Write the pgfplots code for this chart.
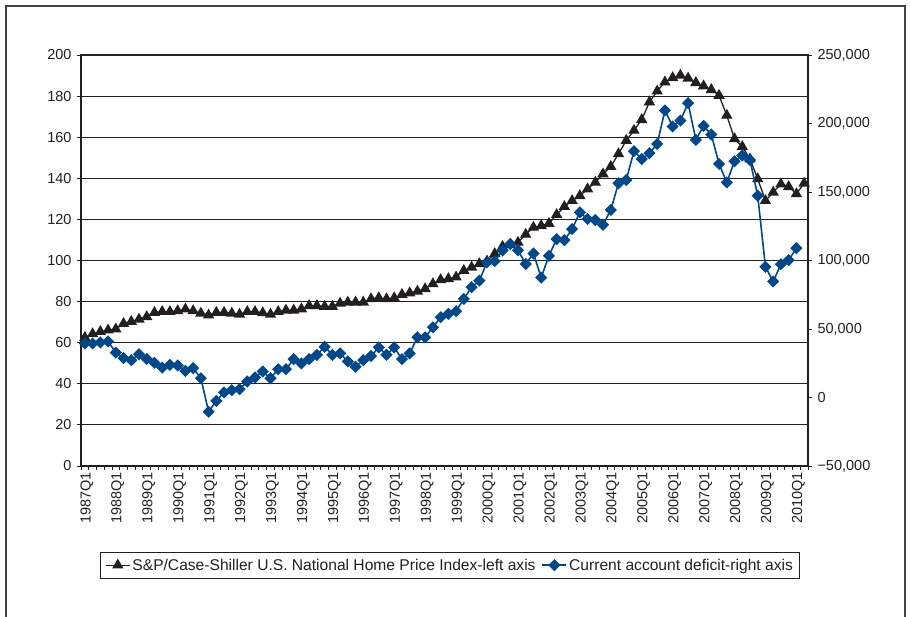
\documentclass[border=0pt]{standalone}
\usepackage{pgfplots}
\pgfplotsset{compat=1.18}
\usepackage{pgfplotstable}
\usepackage{fontspec}
\setmainfont{Liberation Sans}
\definecolor{ink}{RGB}{35,31,32}
\definecolor{cablue}{RGB}{0,72,140}

\pgfplotstableread{
x y
0 62.5
1 64.3
2 65.4
3 66.1
4 66.6
5 69.3
6 70.3
7 71.4
8 72.6
9 74.7
10 75.1
11 75.1
12 75.5
13 76.3
14 75.5
15 74.3
16 73.4
17 74.7
18 74.7
19 74.3
20 73.8
21 75.1
22 75.1
23 74.5
24 73.8
25 75.1
26 75.8
27 75.8
28 76.4
29 78.0
30 78.0
31 77.6
32 77.6
33 79.2
34 79.7
35 79.7
36 79.7
37 81.3
38 81.8
39 81.3
40 81.8
41 83.4
42 84.2
43 85.0
44 86.2
45 88.6
46 90.6
47 91.1
48 91.9
49 95.1
50 96.7
51 98.4
52 99.7
53 103.3
54 106.8
55 107.8
56 108.8
57 112.7
58 116.1
59 116.9
60 118.0
61 122.3
62 126.2
63 129.1
64 131.5
65 134.8
66 138.0
67 142.1
68 145.7
69 151.9
70 158.4
71 163.3
72 168.5
73 177.1
74 182.4
75 186.8
76 188.9
77 190.1
78 188.7
79 186.5
80 184.9
81 183.1
82 180.3
83 170.6
84 159.2
85 155.4
86 149.4
87 139.7
88 129.1
89 133.2
90 137.2
91 135.9
92 132.4
93 137.6
}\hpi

\pgfplotstableread{
x y
0 39400
1 39400
2 40150
3 40900
4 32800
5 28750
6 27250
7 31600
8 28150
9 25300
10 21850
11 23800
12 23350
13 19450
14 21400
15 14050
16 -10400
17 -2450
18 3700
19 5350
20 6100
21 11650
22 14650
23 19000
24 14050
25 20650
26 20650
27 28000
28 24850
29 28000
30 31150
31 37000
32 31150
33 32200
34 26350
35 22450
36 27250
37 30250
38 36550
39 31150
40 36550
41 28000
42 32200
43 43900
44 43900
45 51250
46 58600
47 61000
48 62950
49 71950
50 80500
51 85300
52 98800
53 99550
54 107350
55 112000
56 107500
57 97450
58 105100
59 87550
60 103450
61 115600
62 114850
63 122950
64 135100
65 130300
66 129550
67 126100
68 136900
69 156400
70 158800
71 179800
72 174100
73 178300
74 185050
75 209500
76 197800
77 202150
78 214900
79 188050
80 198250
81 191950
82 170500
83 157000
84 172450
85 176650
86 173350
87 147250
88 95350
89 84700
90 97300
91 100300
92 109000
}\cad

\begin{document}
\begin{tikzpicture}
\path[use as bounding box] (0,0) rectangle (911pt,617pt);
\draw[ink!85, line width=1.3pt] (6pt,0pt) -- (6pt,611pt) -- (905pt,611pt) -- (905pt,0pt);
\pgfplotsset{
  common/.style={
    at={(81pt,151pt)}, anchor=south west,
    scale only axis, width=727pt, height=411pt,
    xmin=-0.5, xmax=93.5,
    axis line style={ink, line width=1.1pt},
    tick style={ink, line width=0.8pt},
    tick align=outside,
    major tick length=4pt,
    minor tick length=4pt,
    tick label style={font=\fontsize{14.5}{17}\selectfont, text=ink},
    /pgf/number format/assume math mode=true,
  }
}
\begin{axis}[common,
  ymin=0, ymax=200, ytick={0,20,...,200},
  ytick pos=left,
  xtick pos=bottom,
  ymajorgrids,
  grid style={ink, line width=0.9pt},
  xtick={0,4,...,92},
  xticklabels={1987Q1,1988Q1,1989Q1,1990Q1,1991Q1,1992Q1,1993Q1,1994Q1,1995Q1,1996Q1,1997Q1,1998Q1,1999Q1,2000Q1,2001Q1,2002Q1,2003Q1,2004Q1,2005Q1,2006Q1,2007Q1,2008Q1,2009Q1,2010Q1},
  minor xtick={-0.5,0.5,...,93.5},
  major x tick style={draw=none},
  xticklabel style={rotate=90, anchor=east, yshift=-2pt, xshift=1.5pt},
  yticklabel style={xshift=-2pt},
  legend columns=2,
  legend style={at={(axis description cs:0.5076,-0.209)}, anchor=north,
    draw=ink, line width=0.8pt, inner xsep=5pt, inner ysep=4.5pt,
    font=\fontsize{15.6}{18.5}\selectfont, text=ink,
    /tikz/every even column/.append style={column sep=4pt}},
  legend cell align=left,
  legend image code/.code={\draw[mark repeat=2,mark phase=2] plot coordinates {(0pt,0pt) (12pt,0pt) (24pt,0pt)};},
]
\addplot[ink, line width=1.3pt, mark=triangle*, mark size=5.3pt, mark options={solid, fill=ink}] table[x=x,y=y] {\hpi};
\addlegendentry{S\&P/Case-Shiller U.S. National Home Price Index-left axis}
\addlegendimage{cablue, line width=1.6pt, mark=square*, mark size=3.5pt, mark options={solid, rotate=45, fill=cablue}}
\addlegendentry{Current account deficit-right axis}
\end{axis}
\begin{axis}[common,
  ymin=-50000, ymax=250000,
  scaled y ticks=false,
  ytick={-50000,0,50000,100000,150000,200000,250000},
  yticklabels={{−50,000},{0},{50,000},{100,000},{150,000},{200,000},{250,000}},
  axis y line*=right,
  axis x line=none,
  yticklabel style={xshift=2pt},
]
\addplot[cablue, line width=1.6pt, mark=square*, mark size=3.5pt, mark options={solid, rotate=45, fill=cablue}] table[x=x,y=y] {\cad};
\end{axis}
\end{tikzpicture}
\end{document}
